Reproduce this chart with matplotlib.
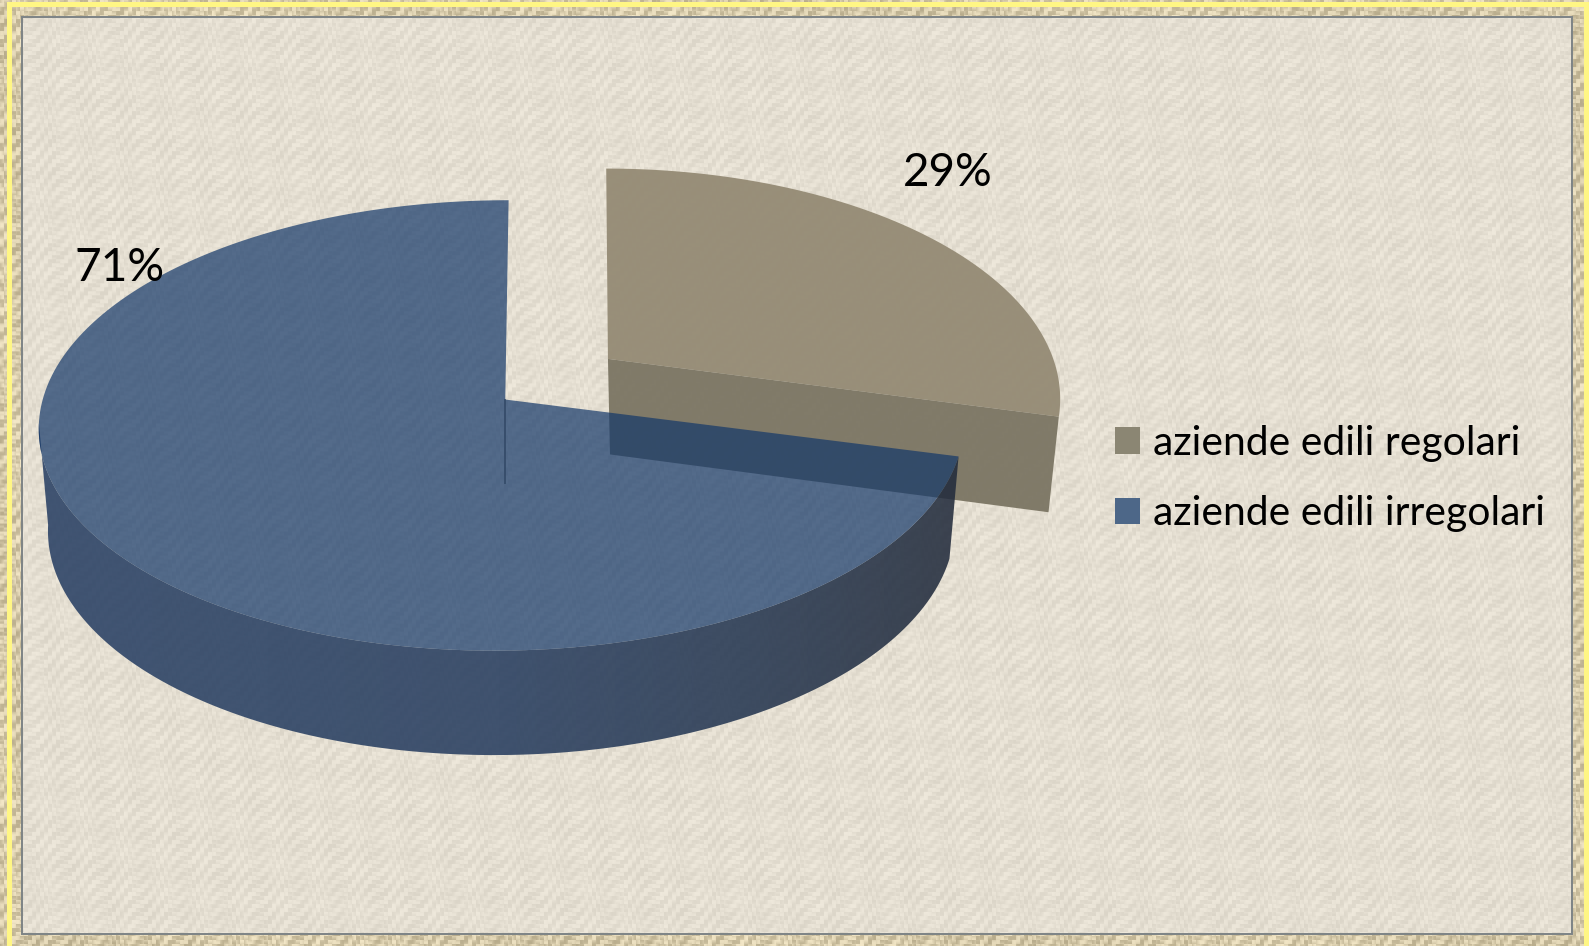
import numpy as np
import matplotlib
matplotlib.use("Agg")
import matplotlib.pyplot as plt
from matplotlib.patches import Patch, Polygon, Rectangle

categories = ["aziende edili regolari", "aziende edili irregolari"]
shares = [29, 71]
W, H = 1589, 946
S = W / 1563
TAN, BLUE = "#968c76", "#133769"
plt.rcParams["font.family"] = ["Lato", "DejaVu Sans"]


def arc(cx, cy, rx, ry, k, t0, t1, q=0, n=240):
    t = np.radians(np.linspace(t0, t1, n))
    u, v = np.sin(t), np.cos(t)
    w = 1 + k * v
    return np.column_stack([(cx + (rx * u + q * v) / w) * S, (cy - ry * v / w) * S])


def texture():
    x, y = np.meshgrid(np.arange(W, dtype=float), np.arange(H, dtype=float))
    i, j = np.floor(x / 4), np.floor(y / 4)
    horiz = (i + j) % 2 == 0
    a = np.where(horiz, np.sin(2 * np.pi * x / 17 + j * 1.7), np.sin(2 * np.pi * y / 17 + i * 2.3))
    c = np.sin(2 * np.pi * (x + y) / 83) * np.sin(2 * np.pi * (x - y) / 71)
    n = (0.75 * a + 0.25 * c)[..., None]
    outer = np.array([214, 202, 170.0]) + 30 * n
    inner = np.array([229, 223, 210.0]) + 10 * n
    box = ((x >= 22) & (x <= 1572) & (y >= 17) & (y <= 934))[..., None]
    return np.clip(np.where(box, inner, outer), 0, 255).astype(np.uint8)


fig = plt.figure(figsize=(W / 100, H / 100), dpi=100)
ax = fig.add_axes([0, 0, 1, 1])
ax.imshow(texture(), extent=(0, W, H, 0), interpolation="bilinear", zorder=0)
ax.set_xlim(0, W)
ax.set_ylim(H, 0)
ax.axis("off")

# frame
yel = "#fff684"
for r in [(7, 2, W - 7, 5), (7, 2, 5, H), (1584, 2, 5, H)]:
    ax.add_patch(Rectangle(r[:2], r[2], r[3], fc=yel, ec="none", zorder=1))
ax.add_patch(Rectangle((22, 17), 1550, 917, fc="none", ec="#7d8385", lw=1.4, zorder=1))

sweep = 360 * shares[0] / sum(shares)

# exploded slice of the smaller share
apex = np.array([[598, 353]]) * S
low = np.array([[600, 447]]) * S
top_tan = arc(598, 353, 438, 219, .17, 0, sweep, q=-2)
bot_tan = arc(600, 447, 426, 219, .17, 0, sweep, q=-2)
ax.add_patch(Polygon(np.vstack([apex, top_tan]), fc=TAN, ec="none", alpha=.97, zorder=2))
wall = np.vstack([apex, top_tan[-1:], bot_tan[-1:], low])
ax.add_patch(Polygon(wall, fc="#7a7462", ec="none", alpha=.94, zorder=3))

# larger share: outer wall with a left-to-right shade, then top face
top_blue = arc(494, 393, 452, 218.6, .115, sweep, 360, q=7)
wall_top = arc(494, 393, 452, 218.6, .115, sweep, 264, q=7)
wall_bot = arc(494, 493, 443, 221, .115, sweep, 264, q=7)
outer = np.vstack([wall_top, wall_bot[::-1]])
stops = np.array([[41, 65, 101], [41, 64, 99], [40, 62, 96], [38, 56, 83], [35, 44, 60]], float)
g = np.array([np.interp(np.linspace(0, 1, 512), np.linspace(0, 1, 5), stops[:, i]) for i in range(3)]).T[None] / 255
rgba = np.dstack([g, np.full(g.shape[:2], .88)])
im = ax.imshow(rgba, extent=(35 * S, 945 * S, 760 * S, 400 * S), aspect="auto", zorder=4)
ax.set_xlim(0, W)
ax.set_ylim(H, 0)
clip = Polygon(outer, transform=ax.transData, fc="none", ec="none")
ax.add_patch(clip)
im.set_clip_path(clip)
ax.add_patch(Polygon(np.vstack([[[497 * S, 393 * S]], top_blue]), fc=BLUE, ec="none", alpha=.7, zorder=5))
ax.plot([497 * S, 497 * S], [393 * S, 475 * S], color="#2d4361", lw=1.4, alpha=.7, zorder=6)

# data labels
pos = [(932 * S, 170 * S), (118 * S, 264 * S)]
for p, v in zip(pos, shares):
    ax.text(p[0], p[1], f"{v}%", fontsize=33, color="black", ha="center", va="center", zorder=7)

leg = ax.legend(
    handles=[Patch(fc="#8b8673", ec="none", label=categories[0]), Patch(fc="#4d6788", ec="none", label=categories[1])],
    loc="upper left", bbox_to_anchor=(1115 / W, 1 - 425 / H), frameon=False, fontsize=29.4,
    handlelength=.62, handleheight=.62, handletextpad=.3, labelspacing=.82, borderpad=0, borderaxespad=0,
)
leg.set_zorder(8)
fig.savefig("out.png", dpi=100)
